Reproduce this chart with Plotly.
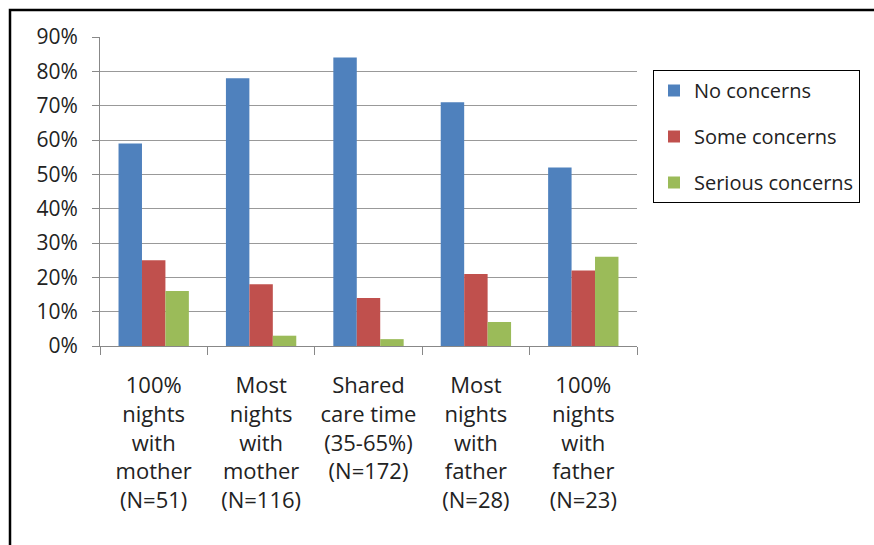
import plotly.graph_objects as go

categories = [
    "100%<br>nights<br>with<br>mother<br>(N=51)",
    "Most<br>nights<br>with<br>mother<br>(N=116)",
    "Shared<br>care time<br>(35-65%)<br>(N=172)",
    "Most<br>nights<br>with<br>father<br>(N=28)",
    "100%<br>nights<br>with<br>father<br>(N=23)",
]
no_concerns = [0.59, 0.78, 0.84, 0.71, 0.52]
some_concerns = [0.25, 0.18, 0.14, 0.21, 0.22]
serious_concerns = [0.16, 0.03, 0.02, 0.07, 0.26]
series_names = ["No concerns", "Some concerns", "Serious concerns"]
colors = ["#4F81BD", "#C0504D", "#9BBB59"]
y_ticks = [0, 0.1, 0.2, 0.3, 0.4, 0.5, 0.6, 0.7, 0.8, 0.9]
y_tick_labels = ["0%", "10%", "20%", "30%", "40%", "50%", "60%", "70%", "80%", "90%"]

FONT = "Open Sans"
fig = go.Figure()
for name, vals, col in zip(series_names, [no_concerns, some_concerns, serious_concerns], colors):
    fig.add_trace(go.Bar(x=categories, y=vals, name=name, marker=dict(color=col, line=dict(width=0)),
                         legendgroup=name))

W, H = 874, 545
L, R, T, B = 100, 637, 37, 346
pw, ph = R - L, B - T

def px(x):
    return (x - L) / pw

def py(y):
    return (B - y) / ph

fig.update_layout(
    width=W, height=H,
    margin=dict(l=L, r=W - R, t=T, b=H - B, pad=0),
    paper_bgcolor="white", plot_bgcolor="white",
    barmode="group", bargap=0.345, bargroupgap=0,
    font=dict(family=FONT, size=20, color="#222222"),
    showlegend=True,
    legend=dict(x=px(653), y=py(70), xanchor="left", yanchor="top",
                bordercolor="black", borderwidth=1, bgcolor="white",
                font=dict(family=FONT, size=20, color="#222222"),
                tracegroupgap=17, traceorder="grouped"),
    xaxis=dict(type="category", tickson="boundaries", ticks="outside", ticklen=8,
               tickcolor="#888888", showline=True, linecolor="#888888", linewidth=1,
               showgrid=False, tickfont=dict(family=FONT, size=22, color="#222222"),
               tickangle=0, ticklabelstandoff=20),
    yaxis=dict(range=[0, 0.9], tickvals=y_ticks, ticktext=y_tick_labels, ticks="outside",
               ticklen=7, tickcolor="#888888", showline=True, linecolor="#888888",
               linewidth=1, showgrid=True, gridcolor="#999999", gridwidth=1,
               zeroline=False, tickfont=dict(family=FONT, size=21, color="#222222"),
               ticklabelstandoff=10),
    shapes=[dict(type="rect", xref="paper", yref="paper",
                 x0=px(10), x1=px(890), y0=py(560), y1=py(10),
                 line=dict(color="black", width=2.5), fillcolor="rgba(0,0,0,0)")],
)

fig.write_html("out.html", config={"displayModeBar": False},
               post_script="document.body.style.margin='0';document.body.style.overflow='hidden';")
